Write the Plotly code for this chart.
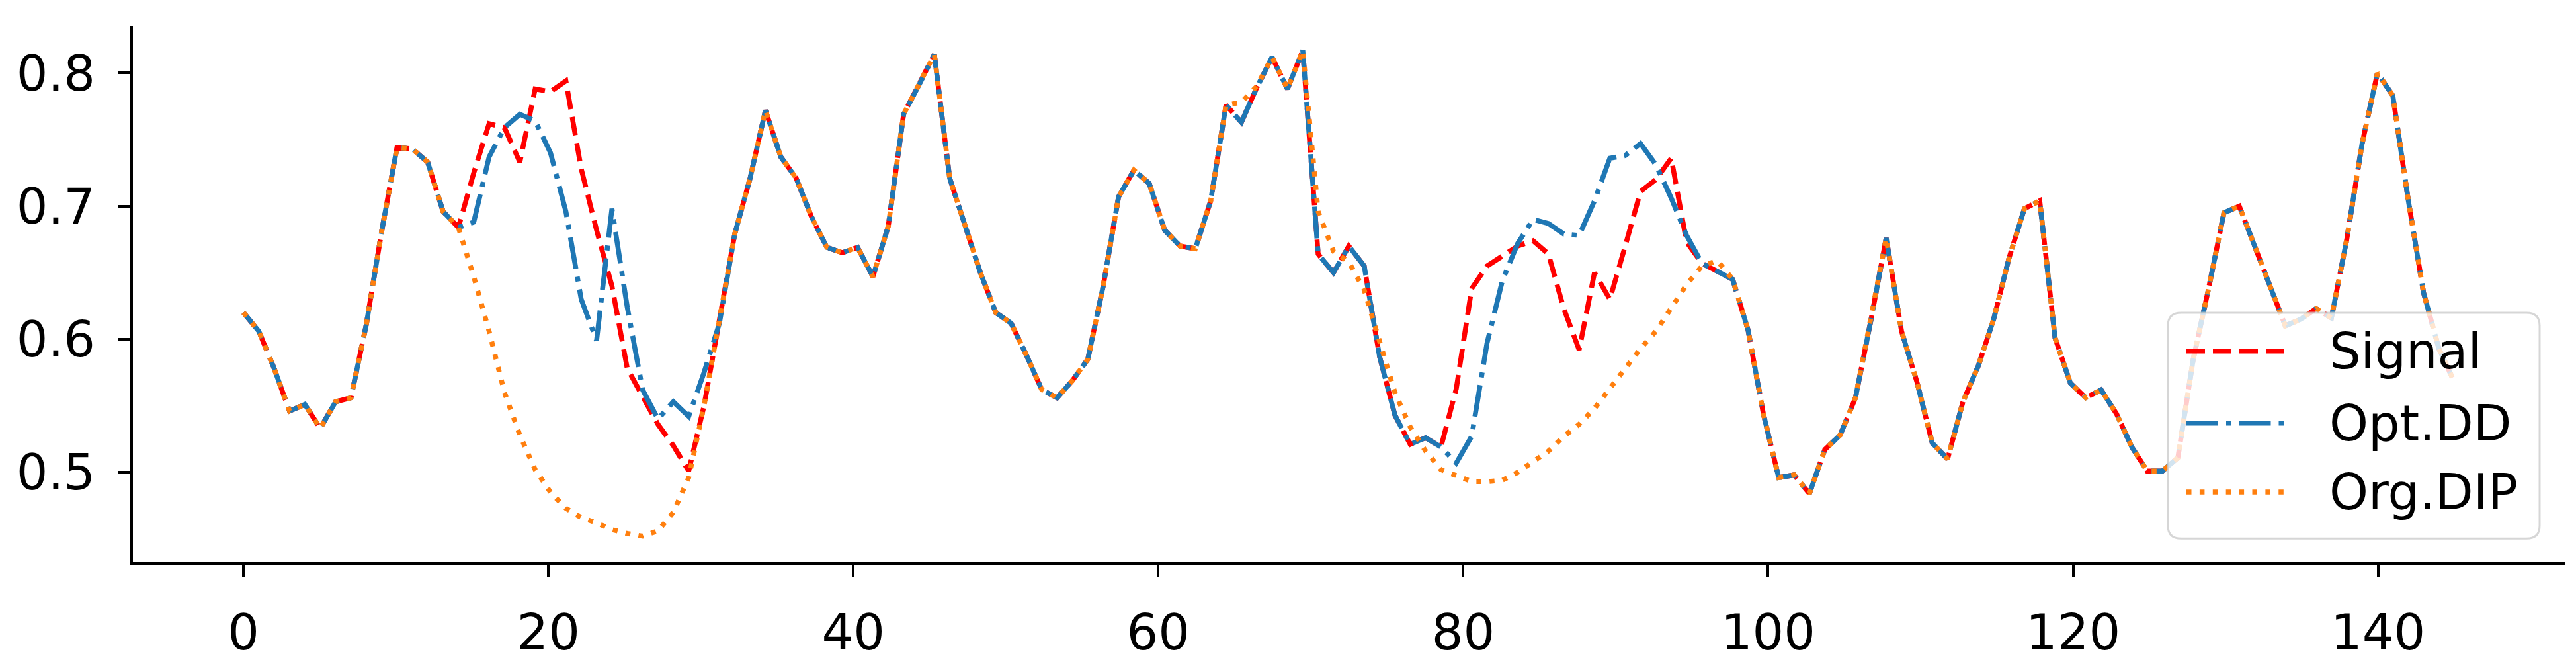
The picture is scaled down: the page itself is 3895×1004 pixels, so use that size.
import numpy as np
import plotly.graph_objects as go

# values, one per sample (145 samples spread over 0..145)
SIGNAL = [
    0.620, 0.606, 0.578, 0.546, 0.551, 0.533, 0.553, 0.556, 0.611, 0.681,
    0.744, 0.743, 0.733, 0.696, 0.684, 0.725, 0.762, 0.759, 0.733, 0.788,
    0.786, 0.794, 0.728, 0.682, 0.640, 0.578, 0.557, 0.536, 0.520, 0.501,
    0.550, 0.612, 0.679, 0.721, 0.772, 0.737, 0.721, 0.692, 0.669, 0.665,
    0.669, 0.647, 0.685, 0.769, 0.791, 0.814, 0.721, 0.685, 0.650, 0.620,
    0.612, 0.588, 0.562, 0.556, 0.569, 0.585, 0.640, 0.707, 0.727, 0.717,
    0.682, 0.670, 0.668, 0.704, 0.776, 0.763, 0.789, 0.812, 0.788, 0.817,
    0.664, 0.650, 0.670, 0.655, 0.587, 0.543, 0.521, 0.526, 0.519, 0.563,
    0.638, 0.655, 0.663, 0.670, 0.674, 0.664, 0.623, 0.592, 0.650, 0.630,
    0.670, 0.711, 0.720, 0.736, 0.673, 0.657, 0.651, 0.645, 0.607, 0.544,
    0.496, 0.498, 0.484, 0.517, 0.528, 0.556, 0.614, 0.676, 0.606, 0.568,
    0.522, 0.510, 0.553, 0.580, 0.615, 0.661, 0.698, 0.704, 0.601, 0.567,
    0.556, 0.562, 0.544, 0.519, 0.501, 0.501, 0.511, 0.585, 0.638, 0.695,
    0.700, 0.670, 0.638, 0.610, 0.615, 0.623, 0.616, 0.675, 0.747, 0.800,
    0.783, 0.705, 0.635, 0.593, 0.568,
]

OPT_DD = [
    0.620, 0.606, 0.578, 0.546, 0.551, 0.533, 0.553, 0.556, 0.611, 0.681,
    0.744, 0.743, 0.733, 0.696, 0.684, 0.688, 0.737, 0.759, 0.769, 0.764,
    0.740, 0.696, 0.630, 0.599, 0.698, 0.624, 0.562, 0.540, 0.553, 0.542,
    0.575, 0.612, 0.679, 0.721, 0.772, 0.737, 0.721, 0.692, 0.669, 0.665,
    0.669, 0.647, 0.685, 0.769, 0.791, 0.814, 0.721, 0.685, 0.650, 0.620,
    0.612, 0.588, 0.562, 0.556, 0.569, 0.585, 0.640, 0.707, 0.727, 0.717,
    0.682, 0.670, 0.668, 0.704, 0.776, 0.763, 0.789, 0.812, 0.788, 0.817,
    0.664, 0.650, 0.670, 0.655, 0.587, 0.543, 0.521, 0.526, 0.519, 0.507,
    0.527, 0.597, 0.644, 0.672, 0.690, 0.687, 0.679, 0.678, 0.704, 0.736,
    0.738, 0.747, 0.731, 0.706, 0.678, 0.657, 0.651, 0.645, 0.607, 0.544,
    0.496, 0.498, 0.484, 0.517, 0.528, 0.556, 0.614, 0.676, 0.606, 0.568,
    0.522, 0.510, 0.553, 0.580, 0.615, 0.661, 0.698, 0.704, 0.601, 0.567,
    0.556, 0.562, 0.544, 0.519, 0.501, 0.501, 0.511, 0.585, 0.638, 0.695,
    0.700, 0.670, 0.638, 0.610, 0.615, 0.623, 0.616, 0.675, 0.747, 0.800,
    0.783, 0.705, 0.635, 0.593, 0.568,
]

ORG_DIP = [
    0.620, 0.606, 0.578, 0.546, 0.551, 0.533, 0.553, 0.556, 0.611, 0.681,
    0.744, 0.743, 0.733, 0.696, 0.684, 0.647, 0.606, 0.560, 0.528, 0.502,
    0.485, 0.473, 0.466, 0.462, 0.457, 0.454, 0.452, 0.456, 0.470, 0.496,
    0.550, 0.612, 0.679, 0.721, 0.772, 0.737, 0.721, 0.692, 0.669, 0.665,
    0.669, 0.647, 0.685, 0.769, 0.791, 0.814, 0.721, 0.685, 0.650, 0.620,
    0.612, 0.588, 0.562, 0.556, 0.569, 0.585, 0.640, 0.707, 0.727, 0.717,
    0.682, 0.670, 0.668, 0.704, 0.776, 0.778, 0.790, 0.812, 0.788, 0.817,
    0.696, 0.666, 0.658, 0.637, 0.600, 0.560, 0.534, 0.516, 0.502, 0.497,
    0.493, 0.493, 0.494, 0.500, 0.508, 0.516, 0.527, 0.536, 0.548, 0.563,
    0.577, 0.593, 0.606, 0.623, 0.641, 0.655, 0.659, 0.645, 0.607, 0.544,
    0.496, 0.498, 0.484, 0.517, 0.528, 0.556, 0.614, 0.676, 0.606, 0.568,
    0.522, 0.510, 0.553, 0.580, 0.615, 0.661, 0.698, 0.704, 0.601, 0.567,
    0.556, 0.562, 0.544, 0.519, 0.501, 0.501, 0.511, 0.585, 0.638, 0.695,
    0.700, 0.670, 0.638, 0.610, 0.615, 0.623, 0.616, 0.675, 0.747, 0.800,
    0.783, 0.705, 0.635, 0.593, 0.568,
]

X_END = 145
X_TICKS = [0, 20, 40, 60, 80, 100, 120, 140]
Y_TICKS = [0.5, 0.6, 0.7, 0.8]

x = np.linspace(0, X_END, len(SIGNAL))

# name, values, colour, dash (matplotlib-like patterns for a 7.5px line)
SERIES = [
    ("Signal", SIGNAL, "#ff0000", "28px,12px"),
    ("Opt.DD", OPT_DD, "#1f77b4", "48px,12px,7.5px,12px"),
    ("Org.DIP", ORG_DIP, "#ff7f0e", "7.5px,12.4px"),
]

LW = 7.5
FONT = dict(family="DejaVu Sans", size=75, color="black")

W, H = 3895, 1004
M = dict(l=193, r=25, t=32, b=132)
PW = W - M["l"] - M["r"]
PH = H - M["t"] - M["b"]


def px(v):
    return (v - M["l"]) / PW


def py(v):
    return (H - M["b"] - v) / PH


fig = go.Figure()
for name, vals, color, dash in SERIES:
    fig.add_trace(go.Scatter(
        x=x, y=vals, name=name, mode="lines",
        line=dict(color=color, width=LW, dash=dash),
        showlegend=False,
    ))

# legend drawn by hand so the handles have matplotlib's long sample lines
box = dict(x0=3270, x1=3832, y0=481, y1=835, r=20)
rx, ry = box["r"] / PW, box["r"] / PH
bx0, bx1 = px(box["x0"]), px(box["x1"])
by0, by1 = py(box["y1"]), py(box["y0"])
path = (
    f"M{bx0 + rx},{by0} L{bx1 - rx},{by0} Q{bx1},{by0} {bx1},{by0 + ry} "
    f"L{bx1},{by1 - ry} Q{bx1},{by1} {bx1 - rx},{by1} "
    f"L{bx0 + rx},{by1} Q{bx0},{by1} {bx0},{by1 - ry} "
    f"L{bx0},{by0 + ry} Q{bx0},{by0} {bx0 + rx},{by0} Z"
)
fig.add_shape(type="path", path=path, xref="paper", yref="paper", layer="above",
              fillcolor="rgba(255,255,255,0.8)",
              line=dict(color="rgba(204,204,204,0.8)", width=3))

rows = [541, 654, 762]
for (name, _, color, dash), row in zip(SERIES, rows):
    fig.add_shape(type="line", xref="paper", yref="paper", layer="above",
                  x0=px(3298), x1=px(3445), y0=py(row), y1=py(row),
                  line=dict(color=color, width=LW, dash=dash))
    fig.add_annotation(text=name, xref="paper", yref="paper",
                       x=px(3512), y=py(row), xanchor="left", yanchor="middle",
                       showarrow=False, font=FONT)

axis_common = dict(
    showline=True, linecolor="black", linewidth=4,
    ticks="outside", ticklen=18, tickwidth=4, tickcolor="black",
    showgrid=False, zeroline=False, tickfont=FONT,
    ticklabelstandoff=20,
)

fig.update_layout(
    width=W, height=H,
    margin=M,
    paper_bgcolor="white", plot_bgcolor="white",
    showlegend=False,
    xaxis=dict(range=[-7.25, 152.25], tickvals=X_TICKS, **axis_common),
    yaxis=dict(range=[0.4325, 0.835], tickvals=Y_TICKS, tickformat=".1f",
               **axis_common),
)

fig.write_html("out.html")
